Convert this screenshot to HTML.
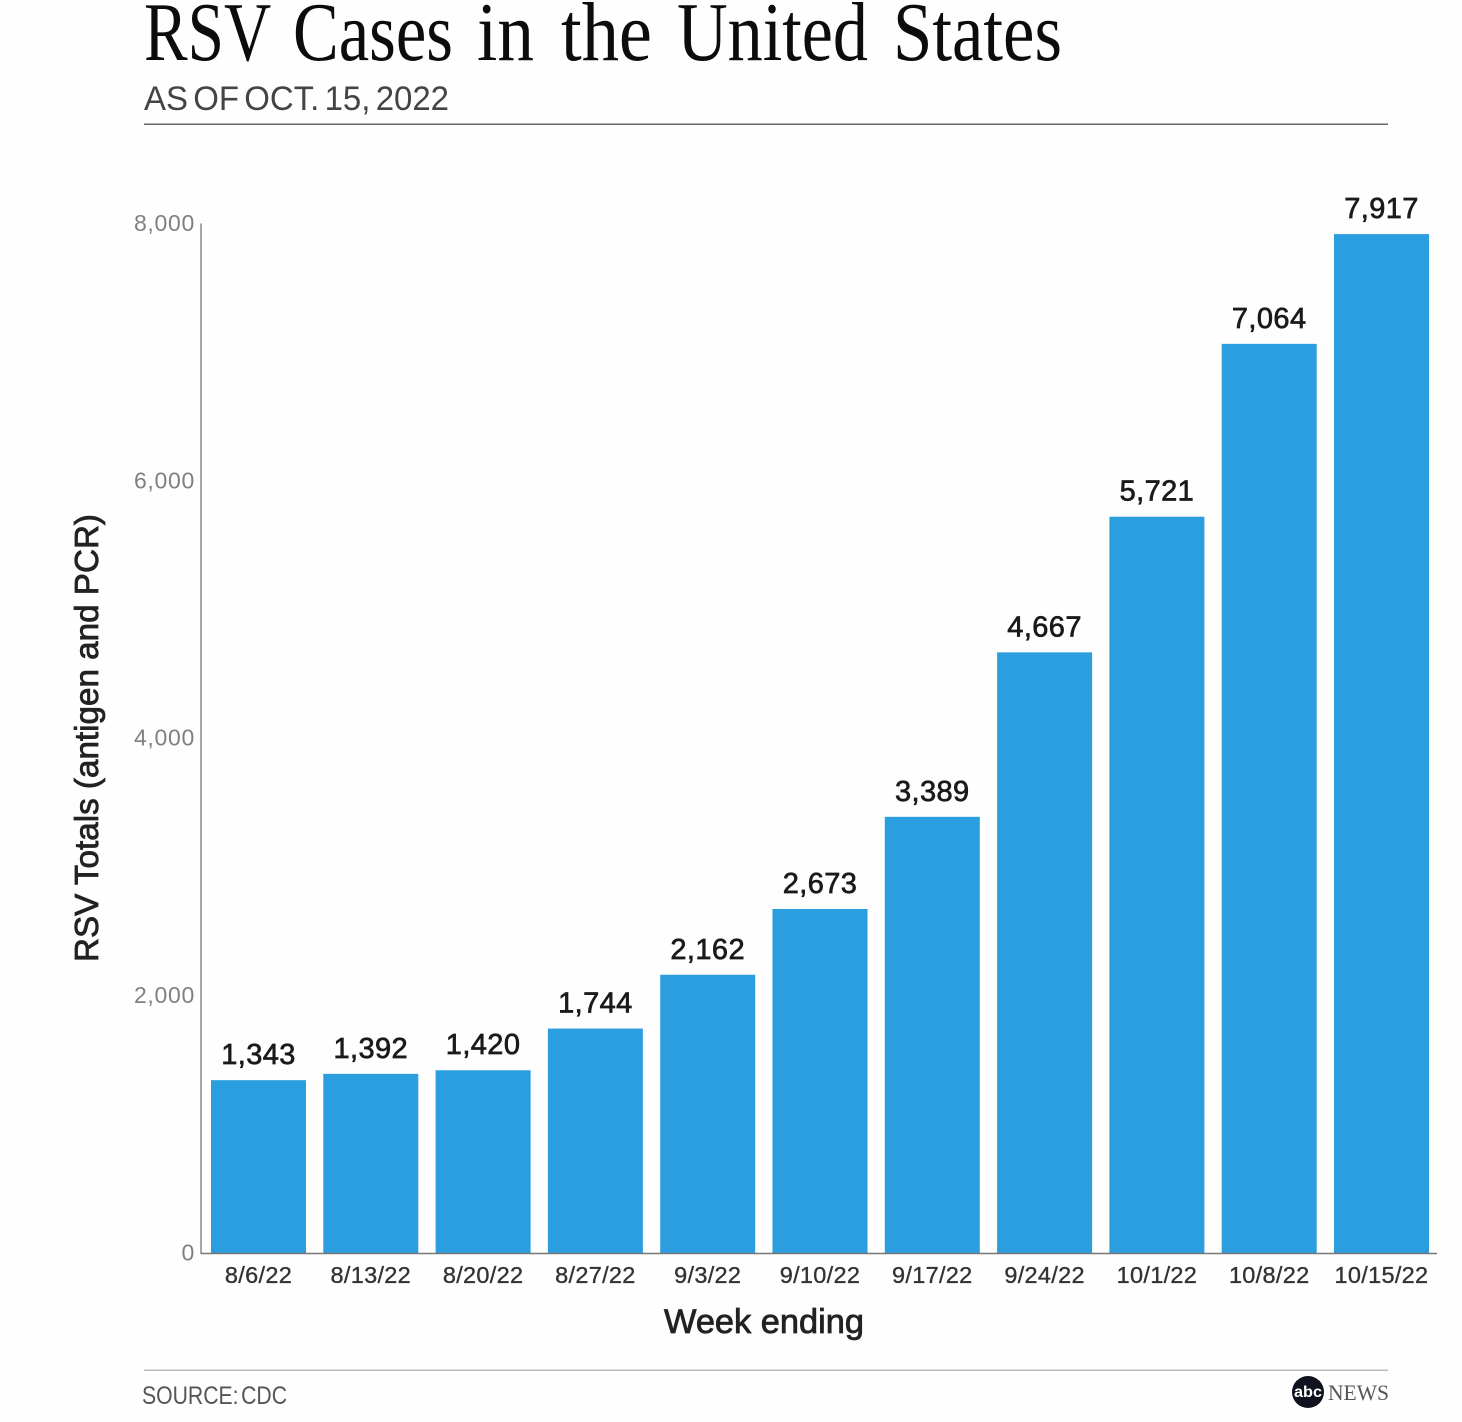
<!DOCTYPE html>
<html>
<head>
<meta charset="utf-8">
<title>RSV Cases in the United States</title>
<style>
html,body{margin:0;padding:0;background:#fefefe;}
svg{display:block;}
text{font-family:"Liberation Sans",sans-serif;}
.serif{font-family:"Liberation Serif",serif;}
</style>
</head>
<body>
<svg id="chart" xmlns="http://www.w3.org/2000/svg" width="1462" height="1422" viewBox="0 0 1462 1422">
  <rect x="0" y="0" width="1462" height="1422" fill="#fefefe"/>
  <text class="serif" y="60" font-size="84" fill="#0c0c0c"><tspan x="144" textLength="126" lengthAdjust="spacingAndGlyphs">RSV</tspan> <tspan x="293" textLength="160" lengthAdjust="spacingAndGlyphs">Cases</tspan> <tspan x="477" textLength="57" lengthAdjust="spacingAndGlyphs">in</tspan> <tspan x="561" textLength="91" lengthAdjust="spacingAndGlyphs">the</tspan> <tspan x="677" textLength="191" lengthAdjust="spacingAndGlyphs">United</tspan> <tspan x="893" textLength="169" lengthAdjust="spacingAndGlyphs">States</tspan></text>
  <text x="144" y="110" font-size="34" word-spacing="-4" fill="#444" textLength="305" lengthAdjust="spacingAndGlyphs">AS OF OCT. 15, 2022</text>
  <rect x="144" y="123.5" width="1244" height="1.5" fill="#666"/>
  <g id="plot"></g>
  <text id="ytitle" transform="translate(98,962) rotate(-90)" font-size="33" fill="#222" stroke="#222" stroke-width="0.8" textLength="448" lengthAdjust="spacingAndGlyphs">RSV Totals (antigen and PCR)</text>
  <text x="664" y="1333" font-size="34" fill="#222" stroke="#222" stroke-width="0.8" textLength="200" lengthAdjust="spacingAndGlyphs">Week ending</text>
  <rect x="144" y="1369.5" width="1244" height="1.5" fill="#bbb"/>
  <text x="142" y="1404" font-size="25" word-spacing="-4" fill="#555" textLength="145" lengthAdjust="spacingAndGlyphs">SOURCE: CDC</text>
  <g>
    <circle cx="1308" cy="1392" r="16" fill="#10131f"/>
    <text x="1308" y="1397" font-size="16" font-weight="bold" fill="#fff" text-anchor="middle" textLength="28" lengthAdjust="spacingAndGlyphs">abc</text>
    <text class="serif" x="1328" y="1400" font-size="22" fill="#555" textLength="61" lengthAdjust="spacingAndGlyphs">NEWS</text>
  </g>
</svg>
<script>
const categories = ["8/6/22","8/13/22","8/20/22","8/27/22","9/3/22","9/10/22","9/17/22","9/24/22","10/1/22","10/8/22","10/15/22"];
const cases = [1343,1392,1420,1744,2162,2673,3389,4667,5721,7064,7917];
const yTicks = [0,2000,4000,6000,8000];

const NS = "http://www.w3.org/2000/svg";
const plot = document.getElementById("plot");
const yBase = 1253, yTop = 223.4, yMax = 8000;
const firstBarLeft = 211, barPitch = 112.3, barWidth = 95;
const yScale = v => yBase - (v / yMax) * (yBase - yTop);
const xScale = i => firstBarLeft + i * barPitch;
const fmt = v => v.toLocaleString("en-US");

function mk(tag, attrs, text) {
  const el = document.createElementNS(NS, tag);
  for (const k in attrs) el.setAttribute(k, attrs[k]);
  if (text !== undefined) el.textContent = text;
  plot.appendChild(el);
  return el;
}

yTicks.forEach(t => {
  const el = mk("text", {x: 195, y: yScale(t) + 7.5, "font-size": 23, fill: "#808080", "text-anchor": "end", "letter-spacing": 0.7}, fmt(t));
  
  
});

cases.forEach((v, i) => {
  const x = xScale(i);
  const cx = x + barWidth / 2;
  const bar = mk("rect", {x: x, y: yScale(v), width: barWidth, height: yBase - yScale(v), fill: "#2b9ee0"});
  
  
  const val = mk("text", {x: cx, y: yScale(v) - 16, "font-size": 29, fill: "#1a1a1a", stroke: "#1a1a1a", "stroke-width": 0.7, "text-anchor": "middle", "letter-spacing": 0.4}, fmt(v));
  
  
  const cat = mk("text", {x: cx, y: 1283, "font-size": 23.5, fill: "#333", stroke: "#333", "stroke-width": 0.35, "text-anchor": "middle", "letter-spacing": 0.3}, categories[i]);
  
  
});

const yAxis = mk("line", {x1: 201, x2: 201, y1: yTop, y2: yBase + 1, stroke: "#8a8a8a", "stroke-width": 1.5});


const xAxis = mk("line", {x1: 201, x2: 1437, y1: yBase + 0.5, y2: yBase + 0.5, stroke: "#777", "stroke-width": 1.5});


</script>
</body>
</html>
